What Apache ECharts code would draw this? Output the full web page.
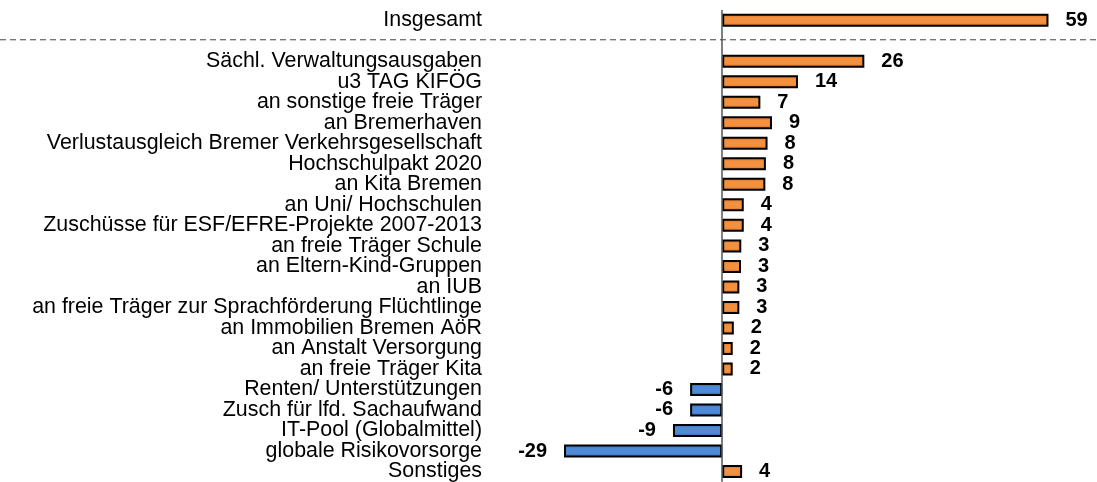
<!DOCTYPE html>
<html>
<head>
<meta charset="utf-8">
<script src="https://cdn.jsdelivr.net/npm/echarts@6/dist/echarts.min.js"></script>
<style>
  html, body { margin: 0; padding: 0; background: #fff; }
  #chart { width: 1097px; height: 482px; }
</style>
</head>
<body>
<div id="chart"></div>
<script>
var categories = [
    'Insgesamt',
    '',
    'Sächl. Verwaltungsausgaben',
    'u3 TAG KIFÖG',
    'an sonstige freie Träger',
    'an Bremerhaven',
    'Verlustausgleich Bremer Verkehrsgesellschaft',
    'Hochschulpakt 2020',
    'an Kita Bremen',
    'an Uni/ Hochschulen',
    'Zuschüsse für ESF/EFRE-Projekte 2007-2013',
    'an freie Träger Schule',
    'an Eltern-Kind-Gruppen',
    'an IUB',
    'an freie Träger zur Sprachförderung Flüchtlinge',
    'an Immobilien Bremen AöR',
    'an Anstalt Versorgung',
    'an freie Träger Kita',
    'Renten/ Unterstützungen',
    'Zusch für lfd. Sachaufwand',
    'IT-Pool (Globalmittel)',
    'globale Risikovorsorge',
    'Sonstiges'
];
var values = [59, null, 25.7, 13.7, 6.9, 9.0, 8.2, 7.9, 7.8, 3.9, 3.9, 3.45, 3.4, 3.1, 3.1, 2.1, 1.9, 1.9, -5.8, -5.8, -8.9, -28.6, 3.6];

var chart = echarts.init(document.getElementById('chart'));

function barColor(v) {
    if (v < 0) {
        return new echarts.graphic.LinearGradient(0, 0, 0, 1, [
            { offset: 0, color: '#3565b0' },
            { offset: 0.3, color: '#4f8ad8' },
            { offset: 0.7, color: '#4f8ad8' },
            { offset: 1, color: '#2f5ca4' }
        ]);
    }
    return new echarts.graphic.LinearGradient(0, 0, 0, 1, [
        { offset: 0, color: '#d26a24' },
        { offset: 0.3, color: '#f3913f' },
        { offset: 0.7, color: '#f3913f' },
        { offset: 1, color: '#c8611f' }
    ]);
}

var barData = values.map(function (v) {
    if (v === null) return '-';
    return {
        value: v,
        itemStyle: { color: barColor(v) },
        label: { position: v < 0 ? 'left' : 'right' }
    };
});

chart.setOption({
    animation: false,
    grid: { left: 501, right: 43, top: 10, bottom: 0 },
    xAxis: {
        type: 'value',
        min: -40,
        max: 60,
        show: false
    },
    yAxis: {
        type: 'category',
        inverse: true,
        data: categories,
        axisLine: { show: false },
        axisTick: { show: false },
        axisLabel: {
            interval: 0,
            margin: 19,
            color: '#000',
            fontFamily: 'Liberation Sans, Arial, sans-serif',
            fontSize: 21.4
        }
    },
    series: [{
        type: 'bar',
        data: barData,
        barWidth: 13,
        itemStyle: { borderColor: '#000', borderWidth: 2 },
        label: {
            show: true,
            distance: 17,
            color: '#000',
            fontWeight: 'bold',
            fontFamily: 'Liberation Sans, Arial, sans-serif',
            fontSize: 20,
            formatter: function (p) { return Math.round(p.value); }
        },
        markLine: {
            silent: true,
            symbol: 'none',
            label: { show: false },
            lineStyle: { color: '#555', width: 1.5, type: 'solid' },
            data: [{ xAxis: 0 }]
        }
    }]
});

// dashed separator under "Insgesamt", placed on the empty category row
var sepY = chart.convertToPixel({ yAxisIndex: 0 }, 1) - 1;
chart.setOption({
    graphic: [{
        type: 'line',
        shape: { x1: 0, y1: sepY, x2: 1097, y2: sepY },
        style: { stroke: '#444', lineWidth: 1, lineDash: [6, 4] }
    }]
});
</script>
</body>
</html>
